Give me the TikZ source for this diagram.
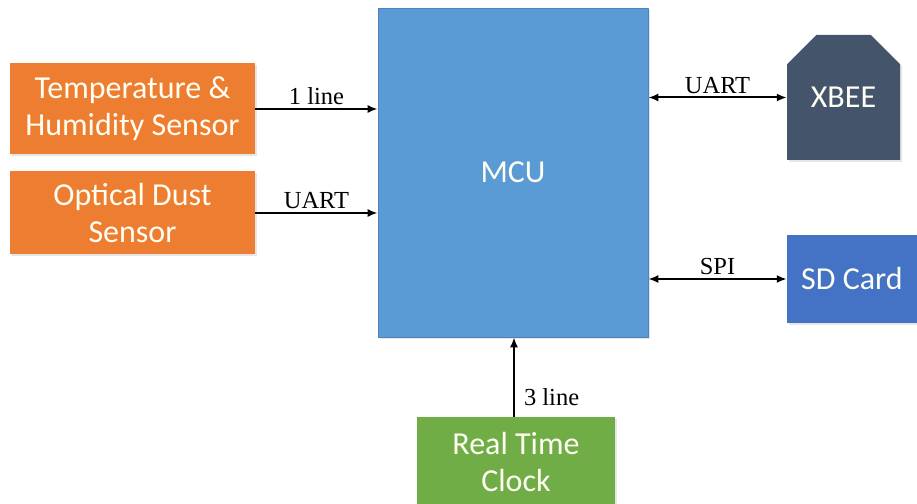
\documentclass[tikz,border=0pt]{standalone}
\usepackage{fontspec}
\setmainfont{Liberation Serif}
\newfontfamily\boxfont{Carlito}
\usetikzlibrary{arrows.meta,shapes.misc,shadows}
\definecolor{mcublue}{HTML}{5B9BD5}
\definecolor{sensorange}{HTML}{ED7D31}
\definecolor{xbeeslate}{HTML}{44546A}
\definecolor{sdblue}{HTML}{4472C4}
\definecolor{rtcgreen}{HTML}{70AD47}
\tikzset{
	block/.style={inner sep=0pt, align=center, text=white!95!yellow, font=\boxfont\fontsize{32}{37}\selectfont,
		drop shadow={opacity=0.2, shadow xshift=2pt, shadow yshift=-2pt}},
	wire/.style={line width=2pt},
	tag/.style={font=\fontsize{24.5}{26}\selectfont, inner sep=3pt}
}
\begin{document}
\begin{tikzpicture}[x=1pt, y=1pt, line join=round, >={Latex[length=10pt,width=8pt]}]
	\useasboundingbox (0,0) rectangle (917,503);
	\clip (0,0) rectangle (917,503);
	% blocks
	\node[block, fill=mcublue, draw=mcublue!85!black, line width=0.6pt, minimum width=270, minimum height=329] (mcu) at (513,330.5) {MCU};
	\node[block, fill=sensorange, minimum width=245, minimum height=91] (temp) at (132.5,394) {Temperature \&\\Humidity Sensor};
	\node[block, fill=sensorange, minimum width=245, minimum height=83] (dust) at (132.5,290) {Optical Dust\\Sensor};
	\node[block, fill=xbeeslate, chamfered rectangle, chamfered rectangle corners={north west,north east},
		chamfered rectangle xsep=17, chamfered rectangle ysep=19, minimum width=113, minimum height=125] (xbee) at (843.5,405.5) {XBEE};
	\node[block, fill=sdblue, minimum width=130, minimum height=88] (sd) at (852,224) {SD Card};
	\node[block, fill=rtcgreen, minimum width=198, minimum height=90] (rtc) at (516,41) {Real Time\\Clock};
	% connections
	\draw[wire,->] (temp.east) -- (temp.east -| mcu.west) node[tag, midway, above]{1 line};
	\draw[wire,->] (dust.east) -- (dust.east -| mcu.west) node[tag, midway, above]{UART};
	\draw[wire,<->] (mcu.east |- xbee.west) -- (xbee.west) node[tag, midway, above]{UART};
	\draw[wire,<->] (mcu.east |- sd.west) -- (sd.west) node[tag, midway, above]{SPI};
	\draw[wire,->] ([xshift=-2pt]rtc.north) -- ([xshift=-2pt]rtc.north |- mcu.south) node[tag, pos=0.25, right=6pt]{3 line};
\end{tikzpicture}
\end{document}
